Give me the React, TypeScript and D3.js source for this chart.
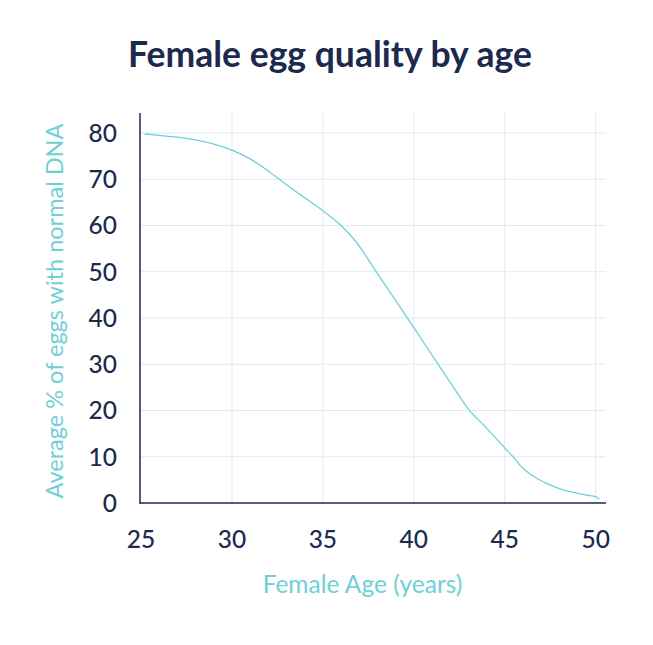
import React from "react";
import * as d3 from "d3";

const ages = [25.2, 26, 27, 28, 29, 30, 31, 32, 33, 34, 35, 36, 36.8, 38, 39, 40, 41, 42, 43, 44, 45, 45.5, 46, 46.5, 47, 47.5, 48, 48.5, 49, 49.5, 50, 50.2];
const normalPct = [79.8, 79.5, 79.1, 78.5, 77.6, 76.3, 74.4, 71.8, 68.8, 66, 63.2, 60, 56.6, 49.6, 43.8, 37.9, 32, 26.1, 20.3, 16.2, 11.9, 9.8, 7.5, 6, 4.8, 3.9, 3.1, 2.5, 2.1, 1.7, 1.4, 0.8];
const xTicks = [25, 30, 35, 40, 45, 50];
const yTicks = [0, 10, 20, 30, 40, 50, 60, 70, 80];

const W = 653, H = 645;
const navy = "#1b2a4e";
const teal = "#6fcfd6";
const grid = "#e1e9ef";
const font = "Lato, 'Open Sans', sans-serif";

export default function App() {
  const x = d3.scaleLinear().domain([25, 50]).range([141, 595.7]);
  const y = d3.scaleLinear().domain([0, 80]).range([503, 133]);
  const yTop = 113;
  const xRight = 606;
  const line = d3.line<number>().x((d, i) => x(ages[i])).y((d) => y(d)).curve(d3.curveMonotoneX);
  return (
    <svg width={W} height={H} style={{ display: "block", position: "absolute", left: 0, top: 0 }}>
      <rect width={W} height={H} fill="#fff" />
      <text x={330} y={67} textAnchor="middle" fontFamily={font} fontWeight={700} fontSize={35.5} fill={navy}>Female egg quality by age</text>
      {yTicks.filter((t) => t > 0).map((t) => (
        <line key={"h" + t} x1={140} x2={xRight} y1={y(t)} y2={y(t)} stroke={grid} strokeWidth={1} />
      ))}
      {xTicks.filter((t) => t > 25).map((t) => (
        <line key={"v" + t} x1={x(t)} x2={x(t)} y1={yTop} y2={503} stroke={grid} strokeWidth={1} />
      ))}
      <path d={line(normalPct) || ""} fill="none" stroke={teal} strokeWidth={1.3} />
      <line x1={140} x2={140} y1={yTop} y2={504} stroke={navy} strokeWidth={1.5} />
      <line x1={140} x2={xRight} y1={503} y2={503} stroke={navy} strokeWidth={1.5} />
      {yTicks.map((t) => (
        <text key={"yl" + t} x={117} y={y(t)} dy="0.36em" textAnchor="end" fontFamily={font} fontSize={24.5} fontWeight={500} fill={navy}>{t}</text>
      ))}
      {xTicks.map((t) => (
        <text key={"xl" + t} x={x(t)} y={548} textAnchor="middle" fontFamily={font} fontSize={24.5} fontWeight={500} fill={navy}>{t}</text>
      ))}
      <text x={362.5} y={593} textAnchor="middle" fontFamily={font} fontSize={24.5} fill={teal}>Female Age (years)</text>
      <text transform="translate(63,311) rotate(-90)" textAnchor="middle" fontFamily={font} fontSize={23.5} fill={teal}>Average % of eggs with normal DNA</text>
    </svg>
  );
}
